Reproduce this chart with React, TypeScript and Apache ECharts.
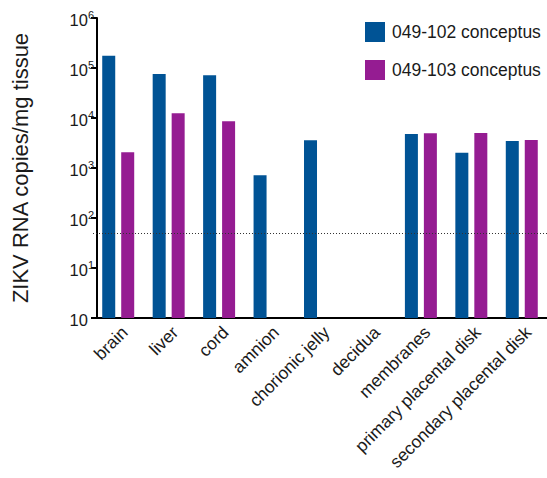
import React, { useEffect, useRef } from "react";
import * as echarts from "echarts";

const categories = [
  "brain",
  "liver",
  "cord",
  "amnion",
  "chorionic jelly",
  "decidua",
  "membranes",
  "primary placental disk",
  "secondary placental disk",
];
const series102 = [176000, 76000, 72000, 714, 3580, null, 4790, 2020, 3470];
const series103 = [2060, 12400, 8600, null, null, null, 4940, 5010, 3630];
const seriesNames = ["049-102 conceptus", "049-103 conceptus"];
const detectionLimit = 50;
const yAxisTitle = "ZIKV RNA copies/mg tissue";

const FONT = "'Liberation Sans', Arial, Helvetica, sans-serif";
const BLUE = "#005395";
const PURPLE = "#951c92";
const INK = "#1a1a1a";

export default function App() {
  const ref = useRef<HTMLDivElement>(null);
  useEffect(() => {
    if (!ref.current) return;
    const chart = echarts.init(ref.current, null, { renderer: "svg" });
    chart.setOption({
      animation: false,
      backgroundColor: "#ffffff",
      textStyle: { fontFamily: FONT, color: INK },
      legend: {
        orient: "vertical",
        left: 365,
        top: 22,
        padding: 0,
        itemWidth: 20,
        itemHeight: 20,
        itemGap: 18,
        icon: "rect",
        textStyle: { fontFamily: FONT, fontSize: 17.5, color: INK, padding: [0, 0, 0, 2] },
        data: seriesNames,
      },
      grid: { left: 93, top: 18, width: 457, height: 300, containLabel: false },
      xAxis: {
        type: "category",
        data: categories,
        axisLine: { lineStyle: { color: "#000", width: 2 } },
        axisTick: { alignWithLabel: true, length: 6, interval: 0, lineStyle: { color: "#000", width: 2 } },
        axisLabel: {
          rotate: 45,
          interval: 0,
          margin: 5,
          verticalAlign: "top",
          fontSize: 17.5,
          fontFamily: FONT,
          color: INK,
        },
      },
      yAxis: {
        type: "log",
        logBase: 10,
        min: 1,
        max: 1000000,
        offset: -4,
        name: yAxisTitle,
        nameLocation: "middle",
        nameGap: 66,
        nameTextStyle: { fontSize: 22, fontFamily: FONT, color: INK },
        axisLine: { show: true, lineStyle: { color: "#000", width: 2 } },
        axisTick: { show: true, length: 6, lineStyle: { color: "#000", width: 2 } },
        minorTick: { show: false },
        splitLine: { show: false },
        axisLabel: {
          margin: 3,
          fontSize: 16,
          fontFamily: FONT,
          color: INK,
          formatter: (v: number) => {
            const e = Math.round(Math.log10(v));
            if (e === 0) return "{base|10}{hid|0}";
            return "{base|10}{sup|" + e + "}";
          },
          rich: {
            base: { fontSize: 16.5, fontFamily: FONT, color: INK, lineHeight: 16, verticalAlign: "bottom" },
            sup: { fontSize: 11, fontFamily: FONT, color: INK, verticalAlign: "top", lineHeight: 21, padding: [2, 0, 0, 0] },
            hid: { fontSize: 11, fontFamily: FONT, color: "rgba(0,0,0,0)", verticalAlign: "top", lineHeight: 21, padding: [2, 0, 0, 0] },
          },
        },
      },
      series: [
        {
          name: seriesNames[0],
          type: "bar",
          data: series102,
          barWidth: 13,
          barGap: "46%",
          itemStyle: { color: BLUE },
          markLine: {
            silent: true,
            symbol: "none",
            label: { show: false },
            lineStyle: { type: [1, 2], color: "#333", width: 1 },
            data: [{ yAxis: detectionLimit }],
          },
        },
        {
          name: seriesNames[1],
          type: "bar",
          data: series103,
          barWidth: 13,
          barGap: "46%",
          itemStyle: { color: PURPLE },
        },
      ],
    });
    return () => chart.dispose();
  }, []);
  return (
    <div
      ref={ref}
      style={{ position: "fixed", left: 0, top: 0, width: 547, height: 478, background: "#fff" }}
    />
  );
}
